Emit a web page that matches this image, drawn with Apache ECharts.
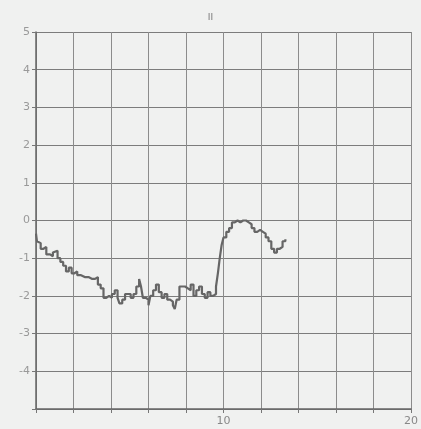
<!DOCTYPE html>
<html><head><meta charset="utf-8">
<script src="https://cdn.jsdelivr.net/npm/echarts@6/dist/echarts.min.js"></script>
<style>html,body{margin:0;padding:0;background:#f0f1f0;}#c{width:421px;height:429px;}</style>
</head><body><div id="c"></div>
<script>
var title = 'II';
var timeX = [0.0,0.05,0.15,0.25,0.4,0.55,0.75,0.9,1.0,1.15,1.3,1.45,1.6,1.75,1.9,2.05,2.2,2.4,2.6,2.8,3.0,3.15,3.3,3.45,3.6,3.75,3.9,4.05,4.2,4.35,4.45,4.6,4.75,4.9,5.05,5.2,5.35,5.5,5.6,5.7,5.85,6.0,6.1,6.25,6.4,6.55,6.7,6.85,7.0,7.15,7.3,7.4,7.5,7.65,7.8,7.95,8.1,8.25,8.4,8.55,8.7,8.85,9.0,9.15,9.3,9.45,9.6,9.7,9.8,9.9,10.0,10.15,10.3,10.45,10.6,10.75,10.9,11.05,11.2,11.35,11.5,11.65,11.8,11.95,12.1,12.25,12.4,12.55,12.7,12.85,13.0,13.15,13.3];
var valueY = [-0.35,-0.55,-0.6,-0.75,-0.7,-0.9,-0.95,-0.85,-0.8,-1.0,-1.1,-1.2,-1.35,-1.25,-1.4,-1.35,-1.45,-1.5,-1.5,-1.55,-1.55,-1.5,-1.7,-1.8,-2.05,-2.0,-2.05,-1.95,-1.85,-2.05,-2.2,-2.1,-1.95,-1.95,-2.05,-1.95,-1.75,-1.55,-1.75,-2.05,-2.1,-2.25,-2.0,-1.85,-1.7,-1.9,-2.05,-1.95,-2.1,-2.15,-2.25,-2.35,-2.1,-1.75,-1.75,-1.8,-1.85,-1.7,-2.0,-1.85,-1.75,-1.95,-2.05,-1.9,-2.0,-1.95,-1.75,-1.4,-1.0,-0.65,-0.45,-0.3,-0.2,-0.05,0.0,-0.05,0.0,0.0,-0.05,-0.1,-0.2,-0.3,-0.25,-0.3,-0.35,-0.45,-0.55,-0.75,-0.85,-0.75,-0.7,-0.55,-0.5];
var xShownLabels = [10, 20];
var yShownLabels = [5,4,3,2,1,0,-1,-2,-3,-4];

var pts = timeX.map(function(x,i){return [x, valueY[i]];});
var chart = echarts.init(document.getElementById('c'));
chart.setOption({
  backgroundColor:'#f0f1f0',
  animation:false,
  title:{text:title,left:'center',top:8,textStyle:{fontSize:9,fontWeight:'normal',color:'#777',fontFamily:'DejaVu Sans'}},
  grid:{left:36,right:7,top:32,bottom:20},
  xAxis:{type:'value',min:0,max:20,interval:2,
    axisLine:{show:true,onZero:false,lineStyle:{color:'#666',width:1.5}},
    axisTick:{show:true,length:4,lineStyle:{color:'#777'}},
    axisLabel:{color:'#888',fontSize:11,fontFamily:'DejaVu Sans',margin:7,
      formatter:function(v){return xShownLabels.indexOf(v)>=0?String(v):'';}},
    splitLine:{show:true,lineStyle:{color:'#8c8c8c',width:1,type:'solid'}}},
  yAxis:{type:'value',min:-5,max:5,interval:1,
    axisLine:{show:true,lineStyle:{color:'#666',width:1.5}},
    axisTick:{show:true,length:4,lineStyle:{color:'#777'}},
    axisLabel:{color:'#999',fontSize:11,fontFamily:'DejaVu Sans',margin:6,
      formatter:function(v){return yShownLabels.indexOf(v)>=0?String(v):'';}},
    splitLine:{show:true,lineStyle:{color:'#7c7c7c',width:1,type:'solid'}}},
  series:[{type:'line',data:pts,step:'end',symbol:'none',
    lineStyle:{color:'#666',width:2.2}}]
});
</script></body></html>
